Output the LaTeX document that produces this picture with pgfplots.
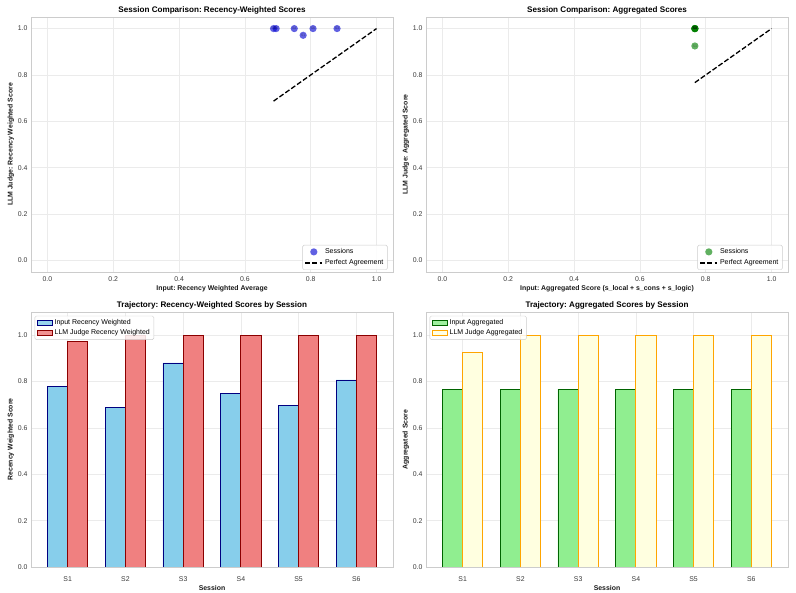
\documentclass[border=0pt]{standalone}
\usepackage{fontspec}
\setmainfont{Liberation Sans}
\usepackage{pgfplots}
\usepackage{pgfplotstable}
\pgfplotsset{compat=1.18}
\frenchspacing

\definecolor{gridc}{HTML}{EBEBEB}
\definecolor{framec}{HTML}{CCCCCC}
\definecolor{tickc}{HTML}{3A3A3A}
\definecolor{scblue}{HTML}{0000D0}
\definecolor{scgreen}{HTML}{008000}
\definecolor{skyb}{HTML}{87CEEB}
\definecolor{navyb}{HTML}{000080}
\definecolor{lcoral}{HTML}{F08080}
\definecolor{dred}{HTML}{8B0000}
\definecolor{lgreen}{HTML}{90EE90}
\definecolor{dgreen}{HTML}{006400}
\definecolor{lyellow}{HTML}{FFFFE0}
\definecolor{orng}{HTML}{FFA500}

% session scores: input vs. LLM judge
\pgfplotstableread{
x    recIn  recLLM  aggIn  aggLLM  lab
0    0.777  0.971   0.767  0.925   S1
1    0.687  1.000   0.767  1.000   S2
2    0.880  1.000   0.767  1.000   S3
3    0.750  1.000   0.767  1.000   S4
4    0.695  1.000   0.767  1.000   S5
5    0.807  1.000   0.767  1.000   S6
}\sessions

\pgfplotsset{
  panel/.style={
    scale only axis, width=362pt, height=255pt,
    axis line style={framec, line width=0.8pt},
    grid=major, major grid style={gridc, line width=0.6pt},
    tick style={draw=none},
    tick label style={font=\fontsize{6.9}{8}\selectfont, text=tickc},
    xticklabel style={yshift=-1.5pt},
    /pgf/number format/assume math mode=true,
    label style={font=\bfseries\fontsize{6.9}{8}\selectfont, text=black!90},
    title style={font=\bfseries\fontsize{8.1}{9.5}\selectfont, yshift=-7pt},
    xlabel style={yshift=3pt},
    ylabel style={yshift=-3pt},
    legend style={font=\fontsize{7}{8.2}\selectfont, draw=framec, fill=white,
      fill opacity=0.85, text opacity=1, rounded corners=1.5pt,
      inner xsep=2pt, inner ysep=1.5pt, row sep=-0.5pt},
    legend cell align=left,
  },
  scpanel/.style={panel,
    xmin=-0.05, xmax=1.05, ymin=-0.05, ymax=1.05,
    xtick={0,0.2,...,1.0}, ytick={0,0.2,...,1.0},
    xticklabel style={/pgf/number format/.cd, fixed, fixed zerofill, precision=1},
    yticklabel style={/pgf/number format/.cd, fixed, fixed zerofill, precision=1},
    legend style={at={(0.985,0.008)}, anchor=south east, row sep=0.5pt},
  },
  barpanel/.style={panel,
    xmin=-0.635, xmax=5.635, ymin=0, ymax=1.1,
    xtick={0,...,5}, xticklabels={S1,S2,S3,S4,S5,S6},
    ytick={0,0.2,...,1.0},
    yticklabel style={/pgf/number format/.cd, fixed, fixed zerofill, precision=1},
    ybar, bar width=0.35,
    xlabel={Session},
    legend style={at={(0.01,0.985)}, anchor=north west},
    legend image code/.code={\draw[#1, line width=0.8pt, sharp corners] (0pt,-2.4pt) rectangle (15pt,2.4pt);},
  },
  sessionlabels/.style={only marks, mark=none, nodes near coords,
    point meta=explicit symbolic,
    every node near coord/.append style={anchor=center, font=\fontsize{3.6}{4}\selectfont,
      text=black, text opacity=0.35, inner sep=0pt}},
}

\begin{document}
\begin{tikzpicture}
\path[use as bounding box] (0pt,0pt) rectangle (796pt,593pt);

% top left: recency weighted
\begin{axis}[scpanel, at={(31pt,321pt)}, anchor=south west,
  title={Session Comparison: Recency-Weighted Scores},
  xlabel={Input: Recency Weighted Average},
  ylabel={LLM Judge: Recency Weighted Score}]
\addplot[scblue, only marks, mark=*, mark size=3.6pt,
  mark options={fill=scblue, draw=none, draw opacity=0, fill opacity=0.62}]
  table[x=recIn, y=recLLM] {\sessions};
\addlegendentry{Sessions}
\addplot[black, line width=1.3pt, dash pattern=on 5pt off 2.2pt]
  coordinates {(0.687,0.687) (1,1)};
\addlegendentry{Perfect Agreement}
\addplot[sessionlabels, forget plot] table[x=recIn, y=recLLM, meta=lab] {\sessions};
\end{axis}

% top right: aggregated
\begin{axis}[scpanel, at={(426pt,321pt)}, anchor=south west,
  title={Session Comparison: Aggregated Scores},
  xlabel={Input: Aggregated Score (s\_local + s\_cons + s\_logic)},
  ylabel={LLM Judge: Aggregated Score}]
\addplot[scgreen, only marks, mark=*, mark size=3.6pt,
  mark options={fill=scgreen, draw=none, draw opacity=0, fill opacity=0.62}]
  table[x=aggIn, y=aggLLM] {\sessions};
\addlegendentry{Sessions}
\addplot[black, line width=1.3pt, dash pattern=on 5pt off 2.2pt]
  coordinates {(0.767,0.767) (1,1)};
\addlegendentry{Perfect Agreement}
\addplot[sessionlabels, forget plot] table[x=aggIn, y=aggLLM, meta=lab] {\sessions};
\end{axis}

% bottom left: recency trajectory
\begin{axis}[barpanel, at={(31pt,26pt)}, anchor=south west,
  title={Trajectory: Recency-Weighted Scores by Session},
  ylabel={Recency Weighted Score}]
\addplot[bar shift=-0.175, fill=skyb, draw=navyb, line width=0.8pt]
  table[x=x, y=recIn] {\sessions};
\addlegendentry{Input Recency Weighted}
\addplot[bar shift=0.175, fill=lcoral, draw=dred, line width=0.8pt]
  table[x=x, y=recLLM] {\sessions};
\addlegendentry{LLM Judge Recency Weighted}
\end{axis}

% bottom right: aggregated trajectory
\begin{axis}[barpanel, at={(426pt,26pt)}, anchor=south west,
  title={Trajectory: Aggregated Scores by Session},
  ylabel={Aggregated Score}]
\addplot[bar shift=-0.175, fill=lgreen, draw=dgreen, line width=0.8pt]
  table[x=x, y=aggIn] {\sessions};
\addlegendentry{Input Aggregated}
\addplot[bar shift=0.175, fill=lyellow, draw=orng, line width=0.8pt]
  table[x=x, y=aggLLM] {\sessions};
\addlegendentry{LLM Judge Aggregated}
\end{axis}
\end{tikzpicture}
\end{document}
